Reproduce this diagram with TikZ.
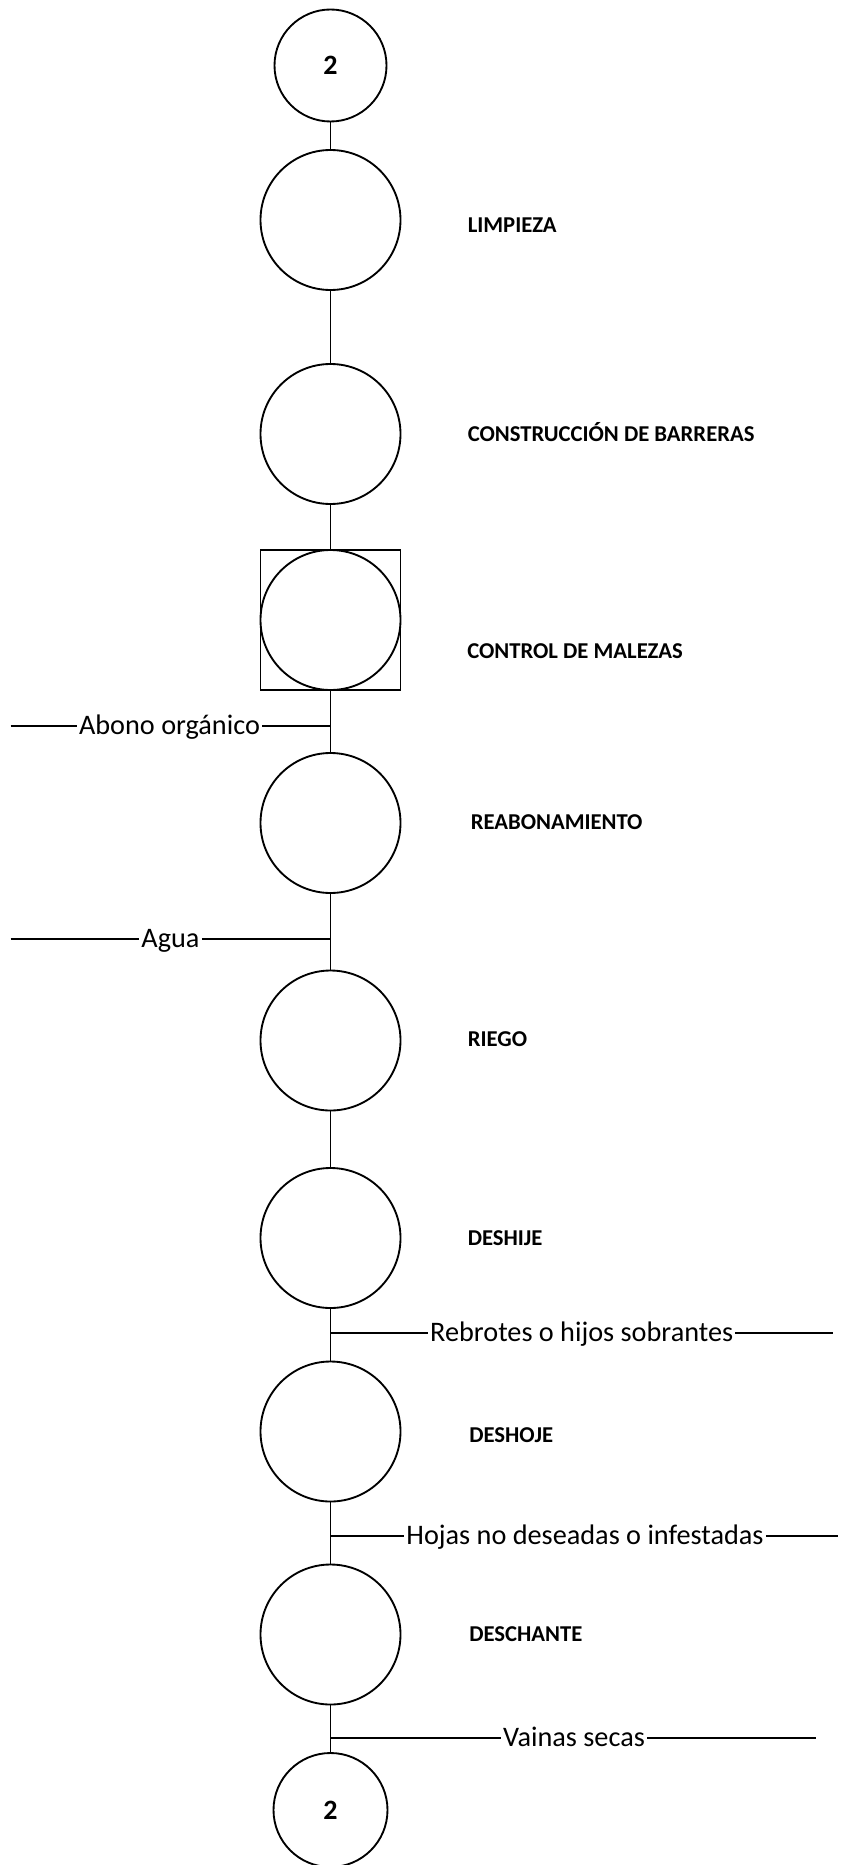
\documentclass[tikz,border=0pt]{standalone}
\usepackage{fontspec}
\setmainfont{Carlito}
\tikzset{
	actividad/.style={draw, circle, line width=1.4pt, minimum size=105pt, inner sep=0pt},
	conector/.style={draw, circle, line width=1.4pt, minimum size=84pt, inner sep=0pt, font=\fontsize{21}{24}\selectfont\bfseries},
	inspeccion/.style={draw, rectangle, line width=1.4pt, minimum size=105pt, inner sep=0pt},
	etiqueta/.style={anchor=west, inner sep=0pt, font=\fontsize{17}{20}\selectfont\bfseries},
	material/.style={anchor=base, inner sep=1.5pt, font=\fontsize{21.2}{24}\selectfont},
	flujo/.style={line width=1.4pt}
}

\begin{document}
\begin{tikzpicture}[x=0.75pt, y=-0.75pt]
	\useasboundingbox (0,0) rectangle (840,1865);
	% operaciones
	\node[conector] (ini) at (330.5, 65.5) {2};
	\node[actividad] (limpieza) at (330.5, 220) {};
	\node[actividad] (barreras) at (330.5, 434) {};
	\node[actividad] (malezas) at (330.5, 620) {};
	\node[inspeccion] (malezasbox) at (330.5, 620) {};
	\node[actividad] (reabono) at (330.5, 823) {};
	\node[actividad] (riego) at (330.5, 1040.5) {};
	\node[actividad] (deshije) at (330.5, 1238) {};
	\node[actividad] (deshoje) at (330.5, 1431.5) {};
	\node[actividad] (deschante) at (330.5, 1634.5) {};
	\node[conector, minimum size=85.5pt] (fin) at (330.5, 1810) {2};
	% nombres
	\node[etiqueta] (tlimpieza) at (467.5, 225) {LIMPIEZA};
	\node[etiqueta] (tbarreras) at (467.5, 432) {CONSTRUCCIÓN DE BARRERAS};
	\node[etiqueta] (tmalezas) at (467, 651) {CONTROL DE MALEZAS};
	\node[etiqueta] (treabono) at (470.5, 822.5) {REABONAMIENTO};
	\node[etiqueta] (triego) at (467.5, 1039.5) {RIEGO};
	\node[etiqueta] (tdeshije) at (467.5, 1238) {DESHIJE};
	\node[etiqueta] (tdeshoje) at (469, 1435) {DESHOJE};
	\node[etiqueta] (tdeschante) at (469, 1634) {DESCHANTE};
	% linea principal
	\draw[flujo] (ini) -- (limpieza) -- (barreras) -- (malezasbox) -- (reabono) -- (riego) -- (deshije) -- (deshoje) -- (deschante) -- (fin);
	% entradas
	\coordinate (jabono) at (330.5, 725.8);
	\coordinate (eabono) at (10.7, 725.8);
	\node[material] (abono) at (169.5, 734.3) {Abono orgánico};
	\draw[flujo] (eabono) -- (abono.west |- jabono);
	\draw[flujo] (abono.east |- jabono) -- (jabono);
	\coordinate (jagua) at (330.5, 939.4);
	\coordinate (eagua) at (10.7, 939.4);
	\node[material] (agua) at (170.5, 947.9) {Agua};
	\draw[flujo] (eagua) -- (agua.west |- jagua);
	\draw[flujo] (agua.east |- jagua) -- (jagua);
	% salidas
	\coordinate (jrebrotes) at (330.5, 1332.8);
	\coordinate (erebrotes) at (833, 1332.8);
	\node[material] (rebrotes) at (581.7, 1341.3) {Rebrotes o hijos sobrantes};
	\draw[flujo] (jrebrotes) -- (rebrotes.west |- jrebrotes);
	\draw[flujo] (rebrotes.east |- jrebrotes) -- (erebrotes);
	\coordinate (jhojas) at (330.5, 1536);
	\coordinate (ehojas) at (838, 1536);
	\node[material] (hojas) at (585, 1544.5) {Hojas no deseadas o infestadas};
	\draw[flujo] (jhojas) -- (hojas.west |- jhojas);
	\draw[flujo] (hojas.east |- jhojas) -- (ehojas);
	\coordinate (jvainas) at (330.5, 1737.7);
	\coordinate (evainas) at (816, 1737.7);
	\node[material] (vainas) at (574, 1746.2) {Vainas secas};
	\draw[flujo] (jvainas) -- (vainas.west |- jvainas);
	\draw[flujo] (vainas.east |- jvainas) -- (evainas);
\end{tikzpicture}
\end{document}
